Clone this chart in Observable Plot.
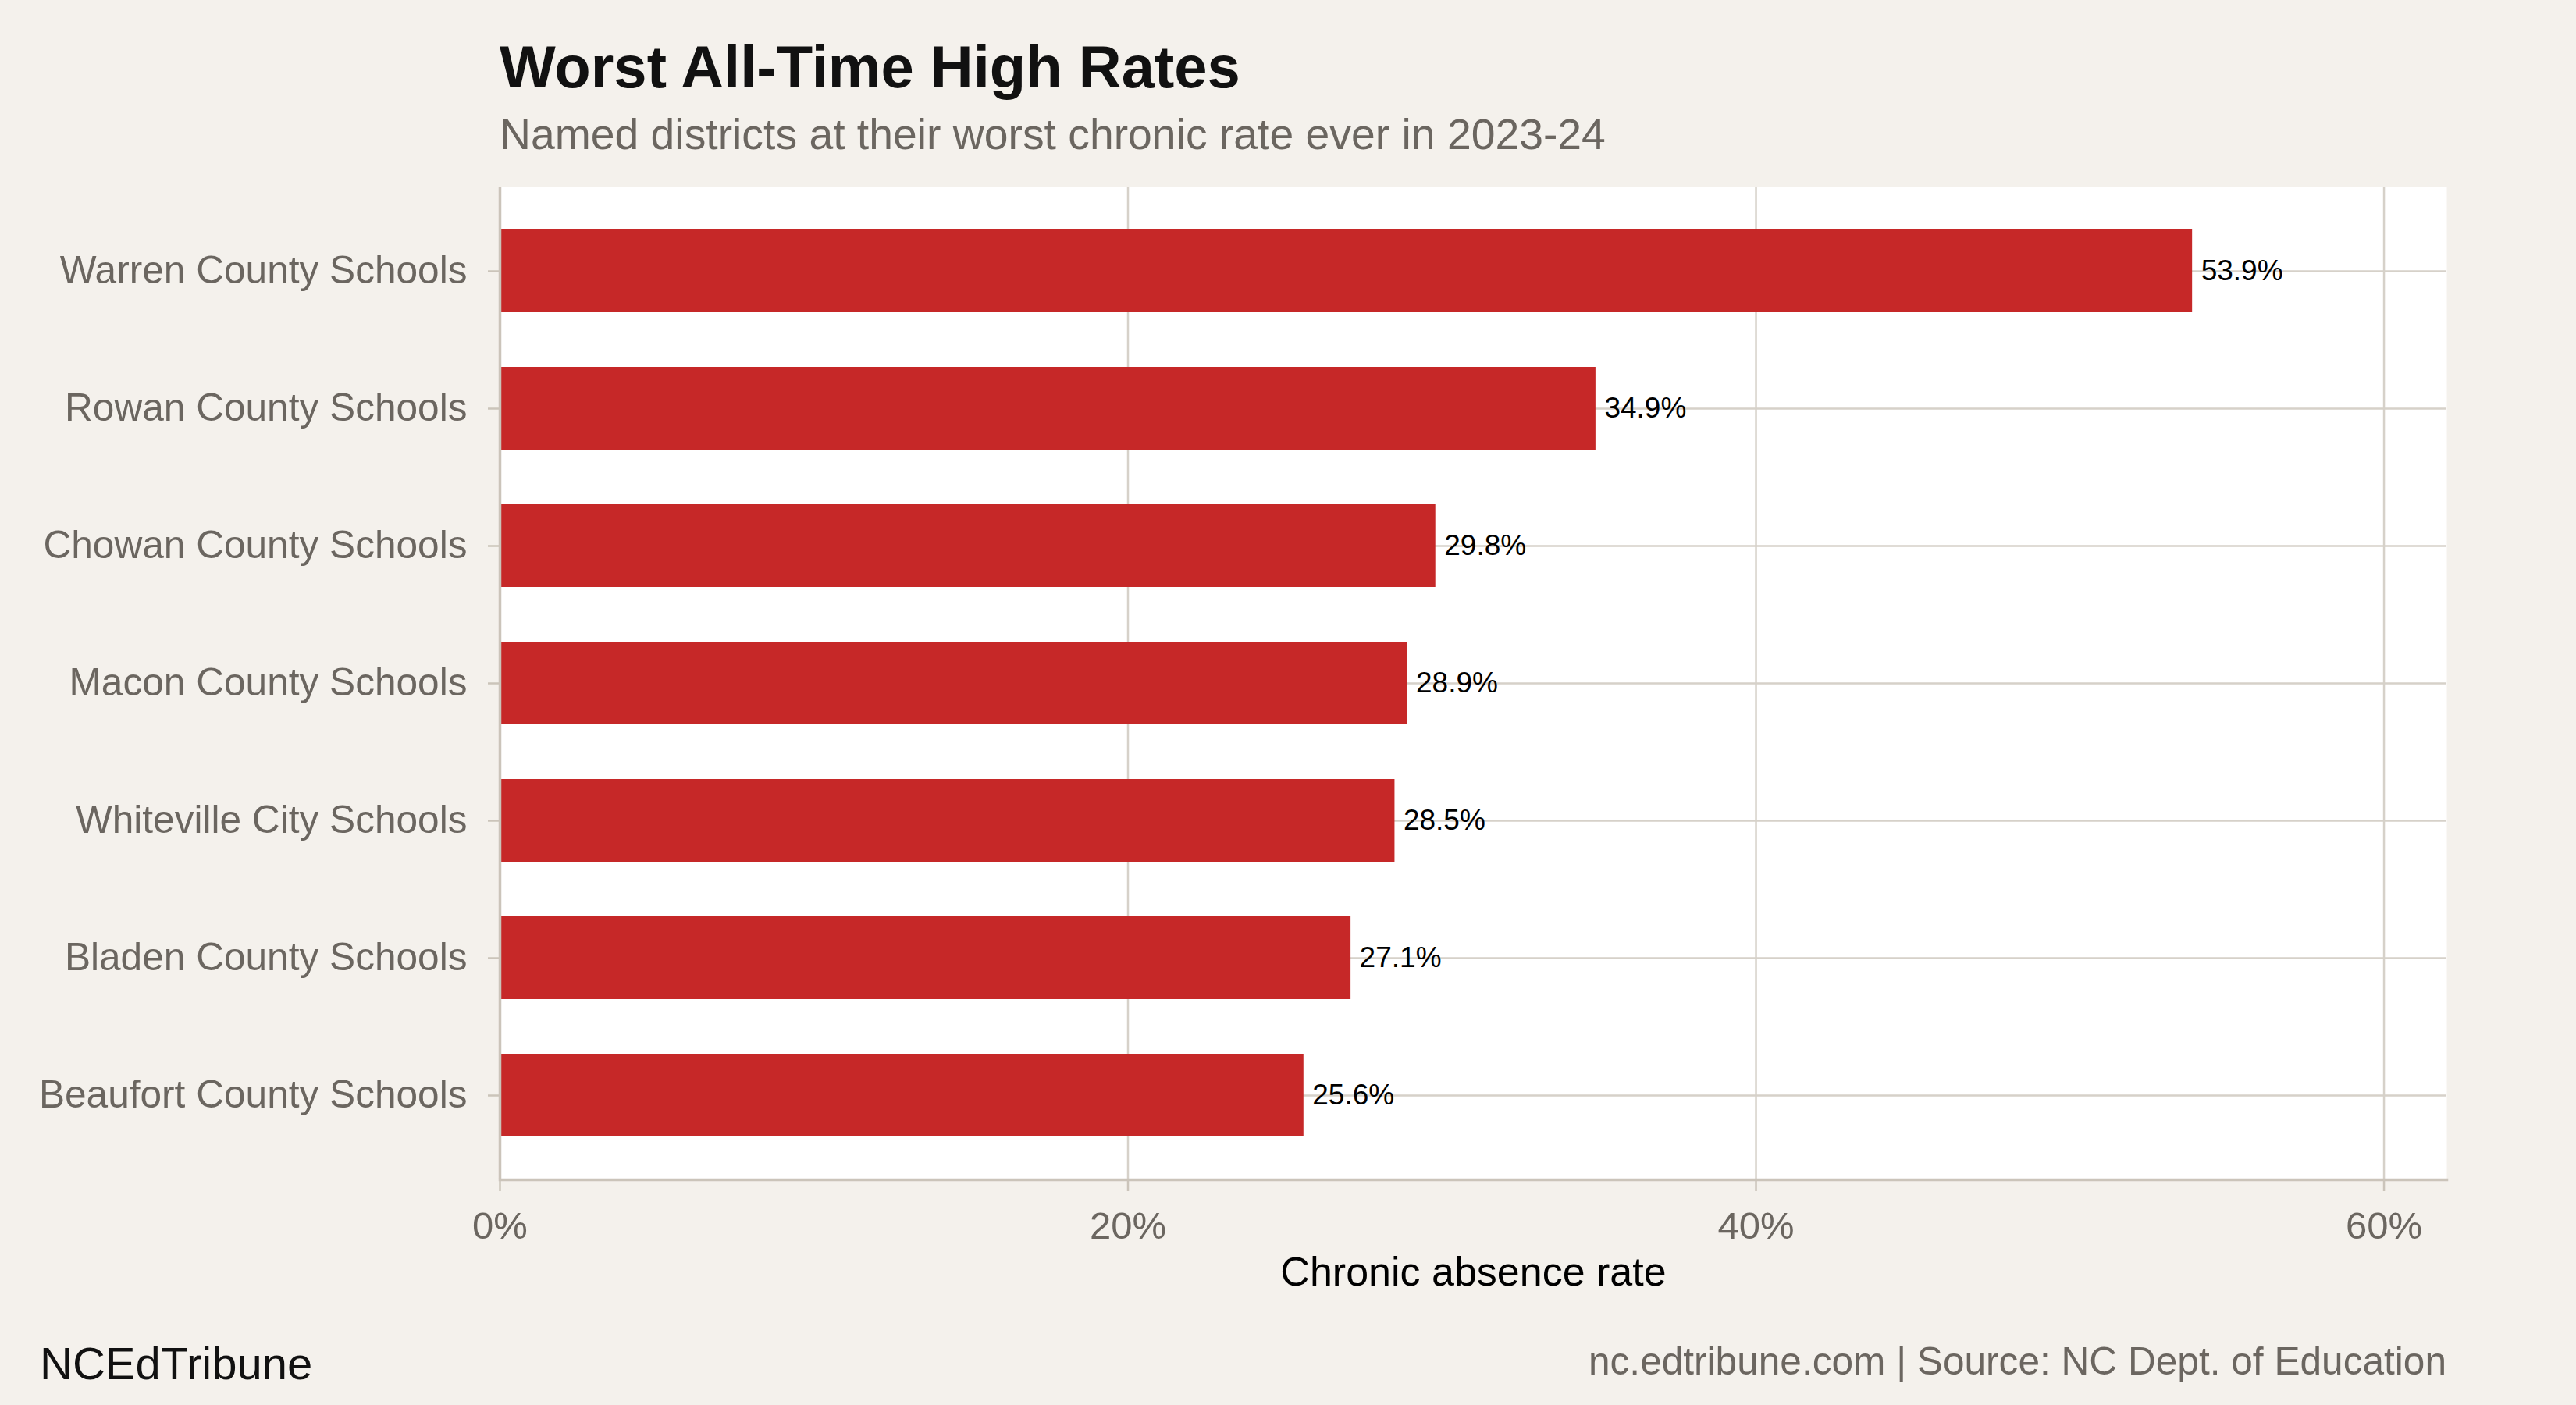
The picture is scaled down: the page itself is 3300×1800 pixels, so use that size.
<!DOCTYPE html>
<html>
<head>
<meta charset="utf-8">
<script src="https://cdn.jsdelivr.net/npm/d3@7"></script>
<script src="https://cdn.jsdelivr.net/npm/@observablehq/plot@0.6"></script>
<style>
html, body { margin: 0; padding: 0; background: #f4f1ec; }
#root { position: relative; width: 3300px; height: 1800px; overflow: hidden; font-family: "Liberation Sans", Arial, Helvetica, sans-serif; background: #f4f1ec; }
.t { position: absolute; line-height: 1; white-space: nowrap; }
#chart { position: absolute; left: 0; top: 230px; }
</style>
</head>
<body>
<div id="root">
  <div class="t" style="left:640px; top:48px; font-size:76px; font-weight:bold; color:#111;">Worst All-Time High Rates</div>
  <div class="t" style="left:640px; top:145px; font-size:55.3px; color:#6b6660;">Named districts at their worst chronic rate ever in 2023-24</div>
  <div id="chart"></div>
  <div class="t" style="left:51px; top:1718px; font-size:58px; color:#111;">NCEdTribune</div>
  <div class="t" style="right:166px; top:1720px; font-size:49.6px; color:#6b6660;">nc.edtribune.com | Source: NC Dept. of Education</div>
</div>
<script>
const districts = [
  "Warren County Schools",
  "Rowan County Schools",
  "Chowan County Schools",
  "Macon County Schools",
  "Whiteville City Schools",
  "Bladen County Schools",
  "Beaufort County Schools"
];
const rates = [53.9, 34.9, 29.8, 28.9, 28.5, 27.1, 25.6];
const xTicks = [0, 20, 40, 60];
const xDomain = [0, 62];

const data = districts.map((d, i) => ({district: d, rate: rates[i]}));
const gridColor = "#d6d1c9";
const axisColor = "#cbc4ba";
const tickText = "#6b6660";
const pct = d => d + "%";

const chart = Plot.plot({
  width: 3300,
  height: 1450,
  marginTop: 9,
  marginBottom: 169,
  marginLeft: 640,
  marginRight: 166,
  style: {background: "transparent", fontFamily: "'Liberation Sans', Arial, Helvetica, sans-serif", overflow: "visible"},
  x: {domain: xDomain, ticks: xTicks, tickFormat: pct},
  y: {domain: districts, paddingInner: 0.4, paddingOuter: 0.3},
  marks: [
    Plot.frame({fill: "#ffffff", stroke: "none"}),
    Plot.gridX(xTicks, {stroke: gridColor, strokeOpacity: 1, strokeWidth: 2.5}),
    Plot.gridY(districts, {stroke: gridColor, strokeOpacity: 1, strokeWidth: 2.5}),
    Plot.barX(data, {x: "rate", y: "district", fill: "#c62828"}),
    Plot.text(data, {x: "rate", y: "district", text: d => d.rate.toFixed(1) + "%", dx: 11, textAnchor: "start", fontSize: 37, fill: "#000"}),
    Plot.ruleX([0], {stroke: axisColor, strokeWidth: 3.5}),
    Plot.frame({anchor: "bottom", stroke: axisColor, strokeWidth: 3.5}),
    Plot.axisX({ticks: xTicks, tickFormat: pct, tickSize: 15, tickPadding: 26, fontSize: 49, fill: tickText, stroke: axisColor, strokeWidth: 2.5, label: null}),
    Plot.axisX({ticks: [], tickSize: 0, label: "Chronic absence rate", labelAnchor: "center", labelArrow: "none", labelOffset: 135, fontSize: 52, fill: "#000"}),
    Plot.axisY({tickSize: 15, tickPadding: 27, fontSize: 49.6, fill: tickText, stroke: axisColor, strokeWidth: 2.5, label: null})
  ]
});
document.getElementById("chart").appendChild(chart);
</script>
</body>
</html>
